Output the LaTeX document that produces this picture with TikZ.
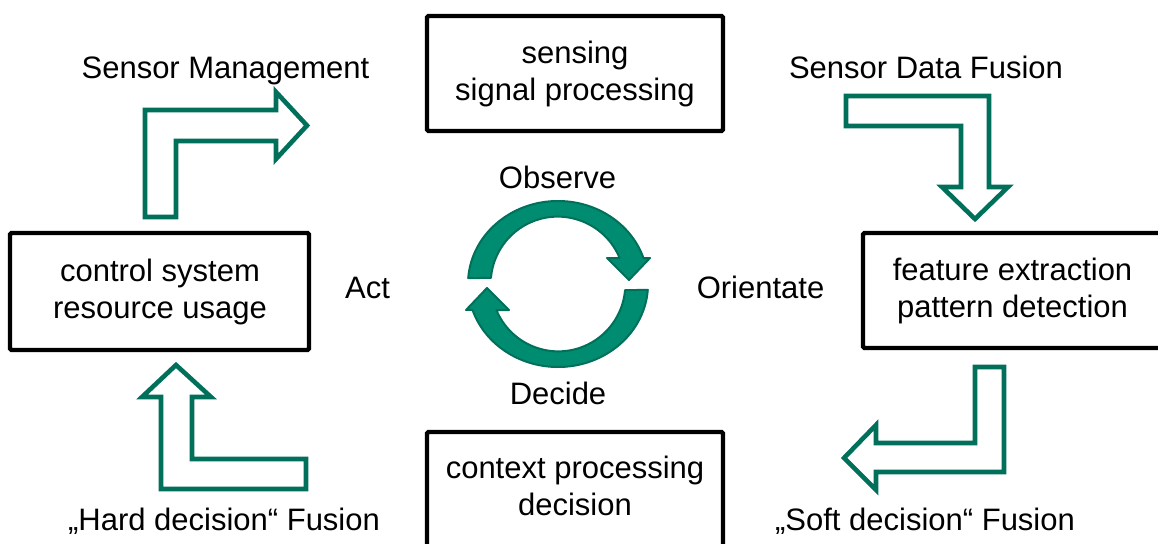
\documentclass[tikz,border=0pt]{standalone}
\usepackage{fontspec}
\setmainfont{Liberation Sans}
\definecolor{loopgreen}{RGB}{0,112,90}
\definecolor{ringdark}{RGB}{0,112,90}
\definecolor{ringlight}{RGB}{0,140,112}
\begin{document}
\begin{tikzpicture}[x=1pt,y=-1pt,
  box/.style={draw=black, line width=4.3pt, rounded corners=1.5pt,
    minimum width=296pt, minimum height=115pt, inner sep=0pt},
  txt/.style={font=\fontsize{31}{37}\selectfont, align=center, inner sep=0pt},
  lbl/.style={font=\fontsize{31}{37}\selectfont, inner sep=0pt, anchor=base},
  bent/.style={draw=loopgreen, line width=4.6pt, fill=white, line join=miter},
  ring/.style={fill=ringlight, draw=ringdark, line width=2pt, line join=round}]
\useasboundingbox (0,0) rectangle (1158,543);
\clip (0,0) rectangle (1158,543);

% the four stages
\node[box] (observe) at (575,73.5) {};
\node[box, minimum width=299pt, minimum height=117pt] (act) at (159.5,291.5) {};
\node[box, minimum width=299pt] (orient) at (1012.5,290.5) {};
\node[box] (decide) at (575,489.5) {};

\node[txt] (observe-t) at (575,73.6) {sensing\\signal processing};
\node[txt] (act-t) at (160,292) {control system\\resource usage};
\node[txt] (orient-t) at (1012.5,291) {feature extraction\\pattern detection};
\node[txt] (decide-t) at (575,486) {context processing\\decision};

% fusion / management labels
\node[lbl] (sm) at (225.5,78) {Sensor Management};
\node[lbl] (sdf) at (926,78) {Sensor Data Fusion};
\node[lbl] (sdec) at (925,530) {„Soft decision“ Fusion};
\node[lbl] (hdec) at (224,530) {„Hard decision“ Fusion};

% loop phase labels
\node[lbl] (l-obs) at (557.5,188) {Observe};
\node[lbl] (l-ori) at (760.5,298) {Orientate};
\node[lbl] (l-dec) at (558,404) {Decide};
\node[lbl] (l-act) at (367.5,298) {Act};

% bent block arrows between the stages
\draw[bent] (145,217) -- (145,110) -- (276,110) -- (276,92) -- (307,125.5)
  -- (276,159) -- (276,141) -- (176,141) -- (176,217) -- cycle;
\draw[bent] (846,96) -- (989,96) -- (989,187) -- (1008,187) -- (975,219)
  -- (942,187) -- (961,187) -- (961,126) -- (846,126) -- cycle;
\draw[bent] (1004,367) -- (1004,472) -- (876,472) -- (876,490) -- (844,458)
  -- (876,425) -- (876,443) -- (975,443) -- (975,367) -- cycle;
\draw[bent] (176,365) -- (211,397) -- (192,397) -- (192,459) -- (306,459)
  -- (306,489) -- (161,489) -- (161,397) -- (142,397) -- cycle;

% circular loop in the middle
\coordinate (hub) at (558,284);
\foreach \turn in {0,180}{
  \begin{scope}[rotate around={\turn:(hub)}]
    \draw[ring] (468.2,278.2)
      arc[start angle=184, end angle=341.8, x radius=90, y radius=83]
      -- (650,258) -- (629,280) -- (607,258) -- (619.6,258)
      arc[start angle=337.5, end angle=185, x radius=67, y radius=67] -- cycle;
  \end{scope}
}
\end{tikzpicture}
\end{document}
